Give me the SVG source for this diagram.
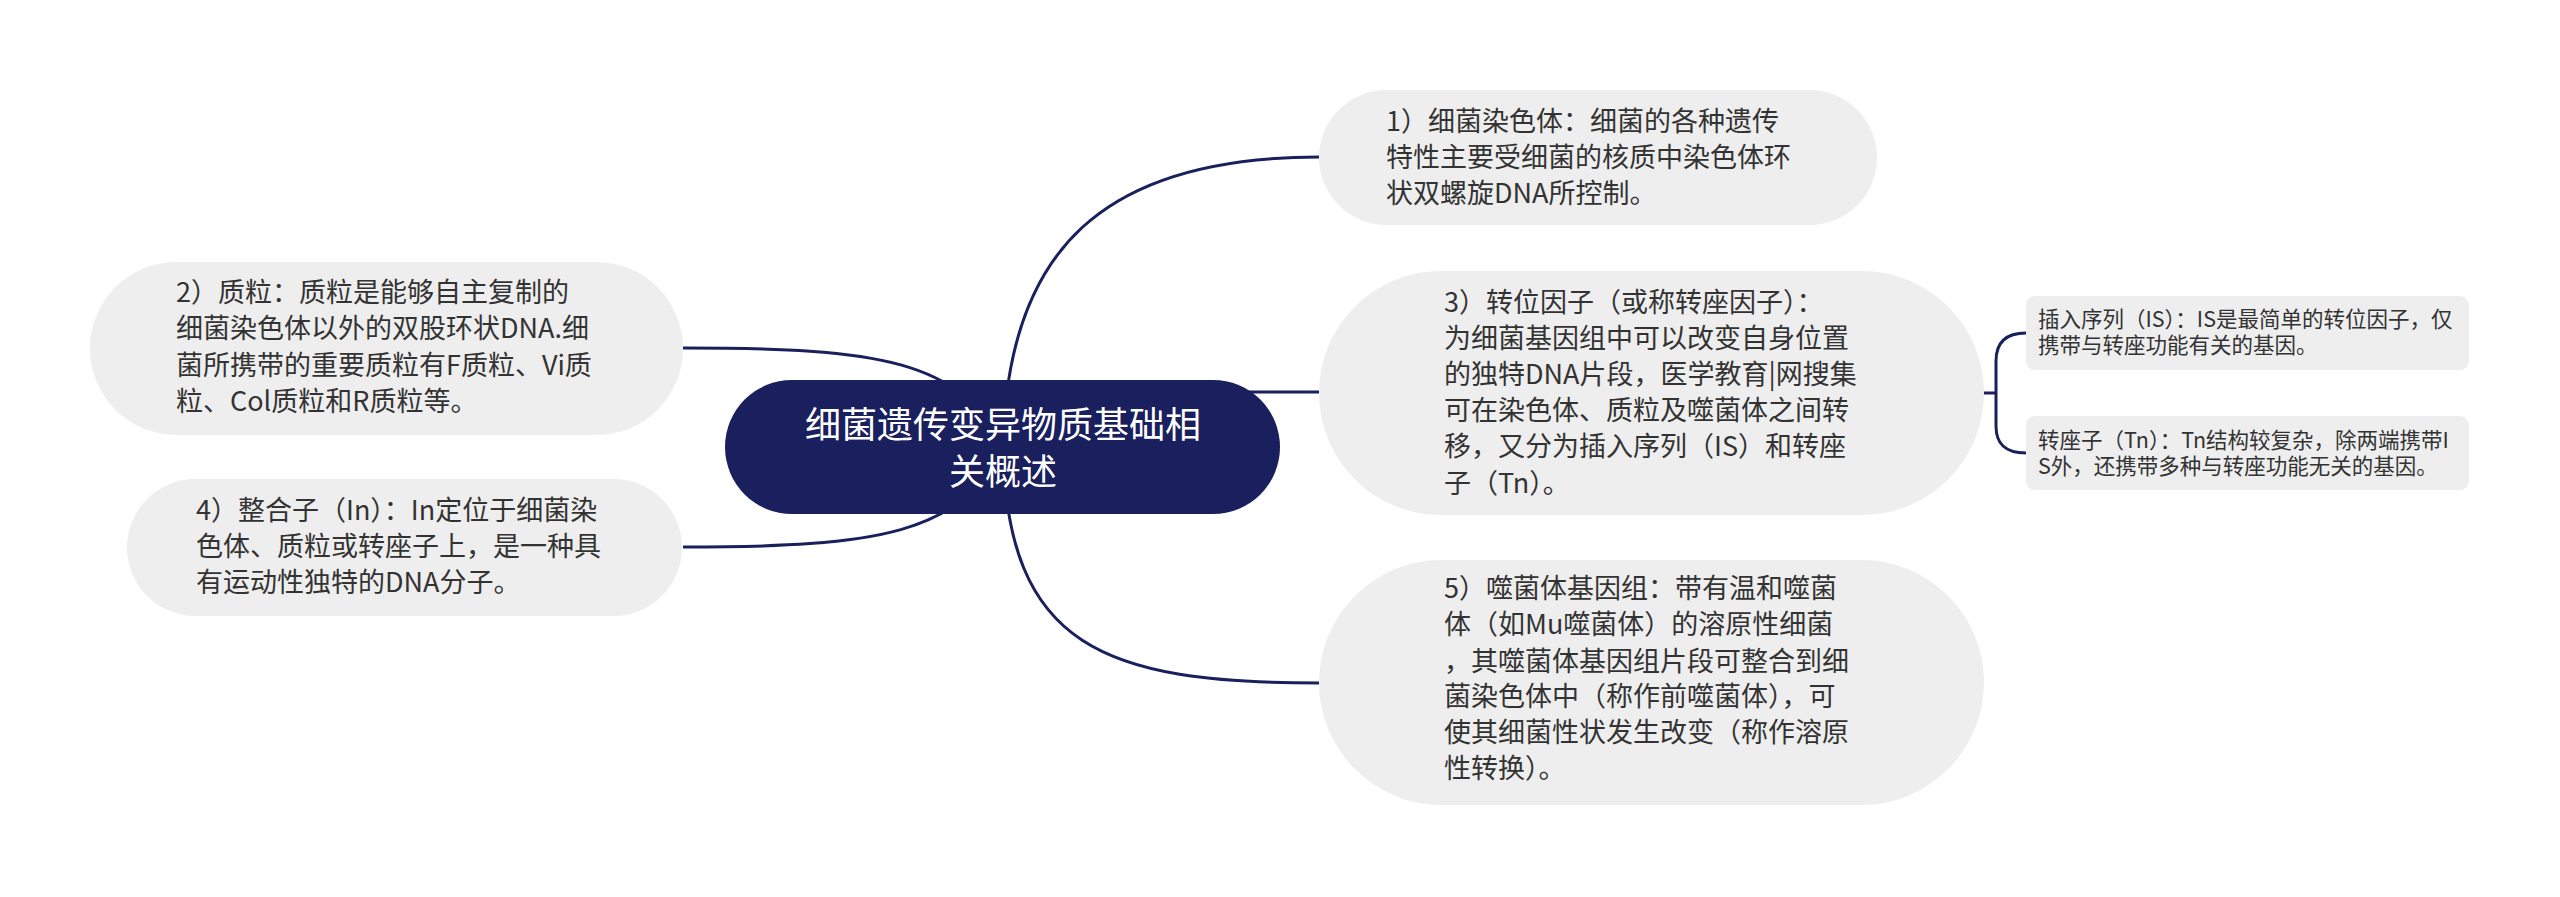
<svg xmlns="http://www.w3.org/2000/svg" width="2560" height="897" viewBox="0 0 2560 897">
<style>
.bg{fill:#ffffff}
.node{fill:#eeeeee}
.sub{fill:#eeeeee}
.root{fill:#1a1f5e}
.t{font-family:"Noto Sans CJK SC","Noto Sans",sans-serif;font-size:27px;fill:#333333}
.ts{font-family:"Noto Sans CJK SC","Noto Sans",sans-serif;font-size:21.5px;fill:#333333}
.tr{font-family:"Noto Sans CJK SC","Noto Sans",sans-serif;font-size:36px;fill:#ffffff;text-anchor:middle}
.c{fill:none;stroke:#1a1f5e;stroke-width:3}
</style>
<rect class="bg" x="0" y="0" width="2560" height="897"/>
<g id="connectors">
<path class="c" d="M1003,447 C1007,249 1104,157 1319,157"/>
<path class="c" d="M683,348 C880,348 960,360 1003,447"/>
<path class="c" d="M1003,392 L1319,392"/>
<path class="c" d="M683,547 C880,547 960,534 1003,447"/>
<path class="c" d="M1003,447 C1007,647 1104,683 1319,683"/>
<path class="c" d="M1984,393 L1996,393 M2026,333 C2004,333 1996,344 1996,361 L1996,426 C1996,443 2004,453 2026,453"/>
</g>
<g id="root">
<rect class="root" x="725" y="380" width="555" height="134" rx="67"/>
<text class="tr" x="1003" y="438">细菌遗传变异物质基础相</text>
<text class="tr" x="1003" y="485">关概述</text>
</g>
<g id="node1">
<rect class="node" x="1319" y="90" width="558" height="135" rx="67.5"/>
<text class="t" x="1386" y="131">1）细菌染色体：细菌的各种遗传</text>
<text class="t" x="1386" y="167">特性主要受细菌的核质中染色体环</text>
<text class="t" x="1386" y="203">状双螺旋DNA所控制。</text>
</g>
<g id="node2">
<rect class="node" x="90" y="262" width="593" height="173" rx="86.5"/>
<text class="t" x="176" y="302">2）质粒：质粒是能够自主复制的</text>
<text class="t" x="176" y="338">细菌染色体以外的双股环状DNA.细</text>
<text class="t" x="176" y="375">菌所携带的重要质粒有F质粒、Vi质</text>
<text class="t" x="176" y="411">粒、Col质粒和R质粒等。</text>
</g>
<g id="node3">
<rect class="node" x="1319" y="271" width="665" height="244" rx="122"/>
<text class="t" x="1444" y="312">3）转位因子（或称转座因子）：</text>
<text class="t" x="1444" y="348">为细菌基因组中可以改变自身位置</text>
<text class="t" x="1444" y="384">的独特DNA片段，医学教育|网搜集</text>
<text class="t" x="1444" y="420">可在染色体、质粒及噬菌体之间转</text>
<text class="t" x="1444" y="456">移，又分为插入序列（IS）和转座</text>
<text class="t" x="1444" y="493">子（Tn）。</text>
</g>
<g id="node4">
<rect class="node" x="127" y="479" width="555" height="137" rx="68.5"/>
<text class="t" x="196" y="520">4）整合子（In）：In定位于细菌染</text>
<text class="t" x="196" y="556">色体、质粒或转座子上，是一种具</text>
<text class="t" x="196" y="592">有运动性独特的DNA分子。</text>
</g>
<g id="node5">
<rect class="node" x="1319" y="560" width="665" height="245" rx="122.5"/>
<text class="t" x="1444" y="598">5）噬菌体基因组：带有温和噬菌</text>
<text class="t" x="1444" y="634">体（如Mu噬菌体）的溶原性细菌</text>
<text class="t" x="1444" y="671">，其噬菌体基因组片段可整合到细</text>
<text class="t" x="1444" y="706">菌染色体中（称作前噬菌体），可</text>
<text class="t" x="1444" y="742">使其细菌性状发生改变（称作溶原</text>
<text class="t" x="1444" y="778">性转换）。</text>
</g>
<g id="sub_is">
<rect class="sub" x="2026" y="296" width="443" height="74" rx="9"/>
<text class="ts" x="2038" y="327">插入序列（IS）：IS是最简单的转位因子，仅</text>
<text class="ts" x="2038" y="353">携带与转座功能有关的基因。</text>
</g>
<g id="sub_tn">
<rect class="sub" x="2026" y="416" width="443" height="74" rx="9"/>
<text class="ts" x="2038" y="448">转座子（Tn）：Tn结构较复杂，除两端携带I</text>
<text class="ts" x="2038" y="474">S外，还携带多种与转座功能无关的基因。</text>
</g>
</svg>
